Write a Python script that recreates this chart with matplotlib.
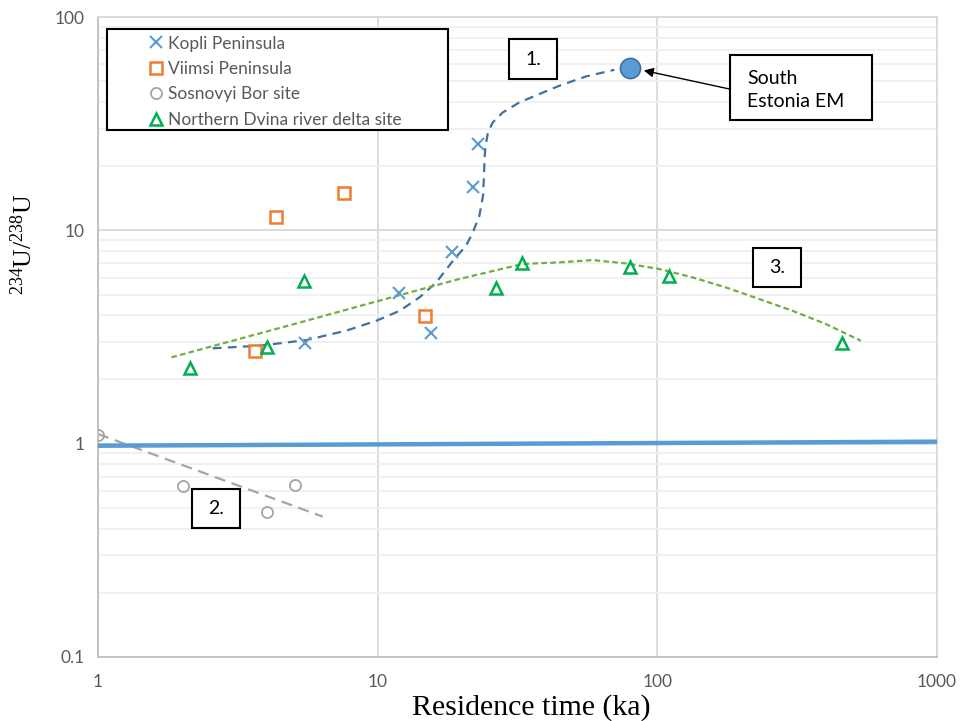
import numpy as np
import matplotlib
matplotlib.use('Agg')
import matplotlib.pyplot as plt
from matplotlib.patches import Rectangle
from matplotlib.ticker import FixedLocator, NullFormatter

plt.rcParams['font.family'] = ['Lato', 'DejaVu Sans']

# data
# -------------------------
kopli_x = [5.5, 11.9, 15.5, 18.5, 21.9, 22.8]
kopli_y = [2.98, 5.1, 3.3, 7.9, 15.9, 25.5]

viimsi_x = [3.64, 4.32, 7.56, 14.8]
viimsi_y = [2.73, 11.5, 14.9, 3.98]

sosn_x = [1.0, 2.01, 4.01, 5.05]
sosn_y = [1.10, 0.636, 0.48, 0.642]

dvina_x = [2.13, 4.01, 5.44, 26.4, 32.9, 80.1, 110, 458]
dvina_y = [2.27, 2.85, 5.81, 5.39, 7.06, 6.76, 6.13, 2.98]

em_x = [80]
em_y = [58]

equil_x = [1, 1000]
equil_y = [0.978, 1.022]

# trend lines
trend1_x = [2.57, 3.79, 5.56, 7.73, 9.89, 12.0, 14.1, 16.2, 18.6, 20.7, 21.9, 23.1,
            23.8, 24.0, 24.1, 24.3, 24.8, 25.8, 28.0, 32.1, 37.9, 44.7, 55.6, 70.2]
trend1_y = [2.80, 2.88, 3.06, 3.39, 3.77, 4.20, 4.85, 5.70, 7.21, 8.48, 9.79, 11.7,
            14.5, 18.1, 21.6, 24.9, 28.8, 32.1, 35.7, 39.8, 43.6, 47.7, 52.7, 56.6]

trend2_x = [1.0, 6.36]
trend2_y = [1.11, 0.455]

trend3_x = [1.83, 5.27, 10.0, 19.6, 33.0, 44.7, 58.8, 77.3, 101.6, 133.7, 176, 231, 304, 400, 534]
trend3_y = [2.54, 3.70, 4.66, 5.92, 6.96, 7.08, 7.26, 7.00, 6.59, 6.02, 5.40, 4.77, 4.20, 3.64, 3.04]

labels = ['Kopli Peninsula', 'Viimsi Peninsula', 'Sosnovyi Bor site', 'Northern Dvina river delta site']

# figure
# ------
fig = plt.figure(figsize=(9.61, 7.21), dpi=100)
ax = fig.add_axes([0.102, 0.0888, 0.873, 0.8875])
ax.set_xscale('log')
ax.set_yscale('log')
ax.set_xlim(1, 1000)
ax.set_ylim(0.1, 100)

ax.yaxis.set_minor_locator(FixedLocator([m * 10.0 ** e for e in (-1, 0, 1) for m in range(2, 10)]))
ax.yaxis.set_minor_formatter(NullFormatter())
ax.xaxis.set_minor_locator(FixedLocator([]))
ax.grid(which='major', color='#d9d9d9', lw=1.3, zorder=0)
ax.grid(which='minor', axis='y', color='#f0f0f0', lw=1.3, zorder=0)
ax.set_axisbelow(True)
for s in ['top', 'right']:
    ax.spines[s].set_color('#d9d9d9')
    ax.spines[s].set_linewidth(1.3)
for s in ['left', 'bottom']:
    ax.spines[s].set_color('#bfbfbf')
    ax.spines[s].set_linewidth(1.3)
ax.tick_params(which='both', length=0, labelsize=12.5, labelcolor='#595959')
ax.tick_params(axis='x', pad=12)
ax.tick_params(axis='y', pad=10)
ax.set_xticks([1, 10, 100, 1000])
ax.set_xticklabels(['1', '10', '100', '1000'])
ax.set_yticks([0.1, 1, 10, 100])
ax.set_yticklabels(['0.1', '1', '10', '100'])

ax.set_xlabel('Residence time (ka)', fontsize=21.5, family='Liberation Serif')
ax.xaxis.set_label_coords(0.517, -0.058)
ax.set_ylabel(r'$\mathregular{^{234}U/^{238}U}$', fontsize=18.5, family='Liberation Serif')
ax.yaxis.set_label_coords(-0.0727, 0.645)

# equilibrium line and trends
ax.plot(equil_x, equil_y, color='#5b9bd5', lw=3.2, zorder=3)
ax.plot(trend1_x, trend1_y, color='#41719c', lw=1.6, dashes=(4, 2.8), zorder=2)
ax.plot(trend2_x, trend2_y, color='#a5a5a5', lw=1.6, dashes=(5, 3), zorder=2)
ax.plot(trend3_x, trend3_y, color='#70ad47', lw=1.6, dashes=(2.5, 1.5), zorder=2)

# points
h1, = ax.plot(kopli_x, kopli_y, 'x', color='#5b9bd5', ms=8, mew=1.5, ls='none', zorder=4)
h2, = ax.plot(viimsi_x, viimsi_y, 's', mfc='none', mec='#ed7d31', ms=8.5, mew=1.8, ls='none', zorder=4)
h3, = ax.plot(sosn_x, sosn_y, 'o', mfc='none', mec='#a5a5a5', ms=8, mew=1.3, ls='none', zorder=4)
h4, = ax.plot(dvina_x, dvina_y, '^', mfc='none', mec='#00b050', ms=8.5, mew=1.8, ls='none', zorder=4)
ax.plot(em_x, em_y, 'o', color='#5b9bd5', mec='#41719c', ms=14.5, mew=1.2, zorder=5)

# legend inside a black box
ax.add_patch(Rectangle((0.0107, 0.823), 0.4064, 0.158, transform=ax.transAxes,
                       fill=True, fc='white', ec='black', lw=1.5, zorder=6))
leg = ax.legend([h1, h2, h3, h4], labels, loc='upper left', bbox_to_anchor=(0.052, 0.982),
                frameon=False, fontsize=12.5, handlelength=0.8, handletextpad=0.3,
                labelspacing=0.54, borderaxespad=0, labelcolor='#595959')
leg.set_zorder(7)

# numbered boxes
def box_label(x0, y0, w, h, txt):
    ax.add_patch(Rectangle((x0, y0), w, h, transform=ax.transAxes, fc='white',
                           ec='black', lw=1.5, zorder=6))
    ax.text(x0 + w / 2, y0 + h / 2, txt, transform=ax.transAxes, ha='center',
            va='center', fontsize=14, zorder=7)

box_label(0.490, 0.903, 0.0572, 0.0625, '1.')
box_label(0.112, 0.2016, 0.0572, 0.061, '2.')
box_label(0.781, 0.578, 0.0572, 0.061, '3.')

ax.add_patch(Rectangle((0.753, 0.839), 0.169, 0.1016, transform=ax.transAxes, fc='white',
                       ec='black', lw=1.5, zorder=6))
ax.text(0.7735, 0.886, 'South\nEstonia EM', transform=ax.transAxes, ha='left', va='center',
        fontsize=14, linespacing=1.47, zorder=7)
ax.annotate('', xy=(em_x[0], em_y[0]), xycoords='data', xytext=(0.753, 0.8875),
            textcoords='axes fraction',
            arrowprops=dict(arrowstyle='-|>', color='black', lw=1, shrinkA=0, shrinkB=10,
                            mutation_scale=14), zorder=6)

plt.savefig('out.png', dpi=100, facecolor='w')
